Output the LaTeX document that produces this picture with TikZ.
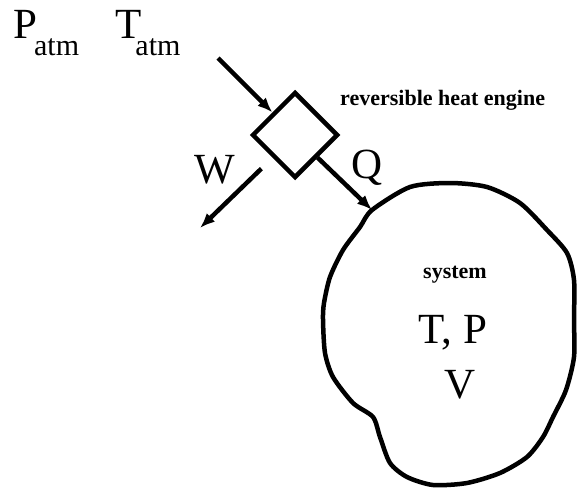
\documentclass[tikz,border=0pt]{standalone}
\usepackage{fontspec}
\setmainfont{Liberation Serif}
\usetikzlibrary{shapes.geometric, arrows.meta, positioning}

\newcommand{\subatm}{\lower17pt\hbox{\fontsize{30}{30}\selectfont atm}}

\begin{document}
\begin{tikzpicture}[x=1pt, y=-1pt, >={Latex[length=15pt, width=12pt]},
    engine/.style={diamond, draw, line width=4.5pt, minimum width=86pt, minimum height=86pt, inner sep=0pt},
    line/.style={draw, ->, line width=4.5pt},
    big/.style={font=\fontsize{43}{43}\selectfont, inner sep=0pt, anchor=base},
    small/.style={font=\fontsize{22}{22}\selectfont\bfseries, inner sep=0pt, anchor=base}]

    \useasboundingbox (0,0) rectangle (578,490);

    % surroundings
    \node [big, anchor=base west] (patm) at (13,38) {P\kern-3pt\subatm};
    \node [big, anchor=base west] (tatm) at (115,38) {T\kern-6pt\subatm};

    % engine
    \node [engine] (eng) at (295,135) {};
    \node [small, anchor=base west] (englabel) at (340,105) {reversible heat engine};
    \coordinate (heatin) at (218,58);
    \coordinate (wtip) at (200,228);
    \node [big] (wlabel) at (215,183) {W};
    \node [big] (qlabel) at (367,178) {Q};

    % system boundary
    \coordinate (sysin) at (372,210);
    \draw [line width=4.5pt] plot [smooth cycle, tension=0.45] coordinates {
        (372,210) (410,187) (450,183) (487,187) (520,203) (547,230)
        (567,253) (574,280) (574,320) (574,357) (566,390) (553,417)
        (543,437) (527,457) (500,473) (467,483) (433,485) (407,477)
        (390,463) (380,437) (373,417) (353,403) (333,377) (325,353)
        (323,320) (324,303) (330,277) (343,250) (360,227)};
    \node [small] (syslabel) at (455,278) {system};
    \node [big] (tp) at (453,343) {T, P};
    \node [big] (vol) at (460,398) {V};

    \path [line] (heatin) -- (eng.north west);
    \path [line] ([shift={(-11,11)}]eng.south west) -- (wtip);
    \path [line] (eng.south east) -- (sysin);
\end{tikzpicture}
\end{document}
